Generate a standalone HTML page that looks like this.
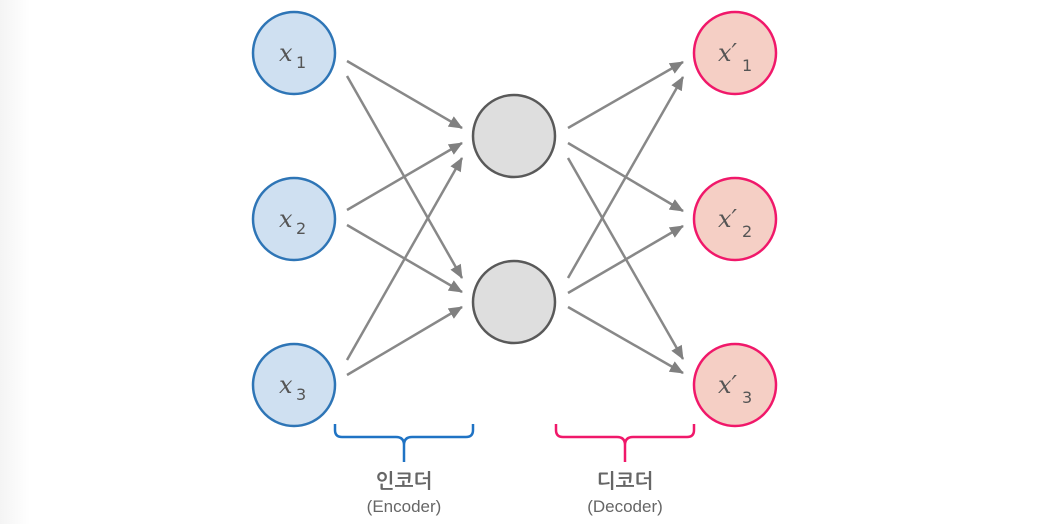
<!DOCTYPE html>
<html><head><meta charset="utf-8"><style>
html,body{margin:0;padding:0;background:#fff;width:1046px;height:524px;overflow:hidden}
</style></head><body>
<svg width="1046" height="524" viewBox="0 0 1046 524" xmlns="http://www.w3.org/2000/svg">
<defs>
<linearGradient id="lg" x1="0" x2="1" y1="0" y2="0"><stop offset="0" stop-color="#f4f4f4"/><stop offset="1" stop-color="#ffffff"/></linearGradient>
<marker id="ah" markerWidth="14" markerHeight="12" refX="13" refY="6" orient="auto" markerUnits="userSpaceOnUse" viewBox="0 0 14 12"><path d="M0,0 L14,6 L0,12 z" fill="#808080"/></marker>
</defs>
<rect x="0" y="0" width="30" height="524" fill="url(#lg)"/>
<g stroke="#888" stroke-width="2.5" marker-end="url(#ah)" fill="none">
<line x1="347" y1="61" x2="462" y2="128"/>
<line x1="347" y1="76" x2="462" y2="278"/>
<line x1="347" y1="210" x2="462" y2="143"/>
<line x1="347" y1="225" x2="462" y2="292"/>
<line x1="347" y1="360" x2="462" y2="158"/>
<line x1="347" y1="375" x2="462" y2="307"/>
<line x1="568" y1="128" x2="683" y2="62"/>
<line x1="568" y1="143" x2="683" y2="211"/>
<line x1="568" y1="158" x2="683" y2="359"/>
<line x1="568" y1="278" x2="683" y2="77"/>
<line x1="568" y1="293" x2="683" y2="226"/>
<line x1="568" y1="307" x2="683" y2="373"/>
</g>
<g stroke="#2e75b6" stroke-width="2.5" fill="#cfe0f1">
<circle cx="294" cy="53" r="41"/><circle cx="294" cy="219" r="41"/><circle cx="294" cy="385" r="41"/>
</g>
<g stroke="#595959" stroke-width="2.5" fill="#dedede">
<circle cx="514" cy="136" r="41"/><circle cx="514" cy="302" r="41"/>
</g>
<g stroke="#f0186a" stroke-width="2.5" fill="#f5cfc5">
<circle cx="735" cy="53" r="41"/><circle cx="735" cy="219" r="41"/><circle cx="735" cy="385" r="41"/>
</g>
<g font-family="'DejaVu Serif',serif" font-style="italic" font-size="24" fill="#555">
<text x="279" y="61">x</text><text x="279" y="227">x</text><text x="279" y="393">x</text>
<text x="718" y="61">x′</text><text x="718" y="227">x′</text><text x="718" y="393">x′</text>
</g>
<g font-family="'DejaVu Sans',sans-serif" font-size="16" fill="#555">
<text x="296" y="68">1</text><text x="296" y="234">2</text><text x="296" y="400">3</text>
<text x="742" y="71">1</text><text x="742" y="237">2</text><text x="742" y="403">3</text>
</g>
<path d="M335,424 v6 q0,7 7,7 h54 q8,0 8,8 v17 M404,445 q0,-8 8,-8 h54 q7,0 7,-7 v-6" stroke="#1f73c4" stroke-width="2.5" fill="none"/>
<path d="M556,424 v6 q0,7 7,7 h54 q8,0 8,8 v17 M625,445 q0,-8 8,-8 h54 q7,0 7,-7 v-6" stroke="#f0186a" stroke-width="2.5" fill="none"/>
<g font-family="'Liberation Sans','NanumGothic','Noto Sans CJK KR',sans-serif" text-anchor="middle" fill="#666">
<text x="404" y="488" font-size="20" font-weight="bold">인코더</text>
<text x="404" y="512" font-size="17">(Encoder)</text>
<text x="625" y="488" font-size="20" font-weight="bold">디코더</text>
<text x="625" y="512" font-size="17">(Decoder)</text>
</g>
</svg>
</body></html>
